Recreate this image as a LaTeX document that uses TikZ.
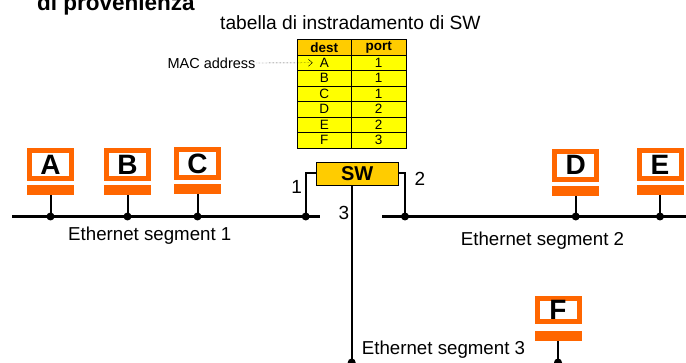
\documentclass[tikz,border=0pt]{standalone}
\usepackage{fontspec}
\setmainfont{Liberation Sans}
\usetikzlibrary{positioning,arrows.meta}
\definecolor{hostorange}{RGB}{255,102,0}
\definecolor{swgold}{RGB}{255,204,0}
\definecolor{tabyellow}{RGB}{255,255,0}
\newcommand{\fpx}[1]{\fontsize{#1}{#1}\selectfont}
\tikzset{
  hostbox/.style={draw=hostorange,line width=5pt,fill=white,minimum width=42pt,
    minimum height=28pt,inner sep=0pt,font=\fpx{28}\bfseries},
  hostbar/.style={fill=hostorange,minimum width=47pt,minimum height=10pt,
    inner sep=0pt,outer sep=0pt},
  swbox/.style={draw,line width=0.8pt,fill=swgold,minimum width=82pt,
    minimum height=23.4pt,inner sep=0pt,font=\fpx{20}\bfseries},
  cell/.style={draw,line width=0.8pt,fill=tabyellow,minimum width=54.5pt,
    minimum height=15.5pt,inner sep=0pt,font=\fpx{13.5}},
  headcell/.style={cell,fill=swgold,font=\fpx{13.5}\bfseries},
  bus/.style={line width=3pt},
  stem/.style={line width=2pt},
  portline/.style={line width=2pt},
  macarrow/.style={thin,densely dotted,-{Straight Barb[length=4pt,width=7pt]}},
  headingtext/.style={anchor=base west,inner sep=0pt,font=\fpx{22.5}\bfseries},
  titletext/.style={anchor=base west,inner sep=0pt,font=\fpx{19.2}},
  seglabel/.style={anchor=base west,inner sep=0pt,font=\fpx{18.7}},
  portlabel/.style={inner sep=0pt,font=\fpx{19}},
  smalllabel/.style={inner sep=1pt,font=\fpx{14.5}}
}

\begin{document}
\begin{tikzpicture}[x=1pt,y=-1pt]
\useasboundingbox (0,0) rectangle (686,363);
\clip (0,0) rectangle (686,363);

% Headings
\node[headingtext] (prov) at (37,10.5) {di provenienza};
\node[titletext] (tabtitle) at (220,30) {tabella di instradamento di SW};

% Forwarding table of SW
\node[headcell] (hd) at (324.3,47.25) {dest};
\node[headcell] (hp) at (378.7,47.25) {port};
\foreach \d/\p [count=\i] in {A/1,B/1,C/1,D/2,E/2,F/3}
{
  \node[cell] (d\i) at (324.3,{47.25+15.5*\i}) {\d};
  \node[cell] (p\i) at (378.7,{47.25+15.5*\i}) {\p};
}

% MAC address pointer into the table
\node[smalllabel] (mac) at (211.5,63) {MAC address};
\draw[macarrow] (mac.east) -- ([xshift=16pt]d1.west);

% Switch
\node[swbox] (SW) at (357.2,174) {SW};

% Hosts
\foreach \h/\x/\y in {A/50.5/164.5,B/127.5/164.5,C/197.5/163.5,D/575.7/165.3,E/660/165}
{
  \node[hostbox] (\h) at (\x,\y) {\h};
  \node[hostbar,below=4pt of \h] (bar\h) {};
}
\node[hostbox,minimum height=23pt] (F) at (558,310) {F};
\node[hostbar,below=7.4pt of F] (barF) {};

% Ethernet segments
\coordinate (bus1w) at (12,216.5);
\coordinate (bus1e) at (320,216.5);
\coordinate (bus2w) at (382,216.5);
\coordinate (bus2e) at (686,216.5);
\coordinate (bus3) at (0,362.5);
\draw[bus] (bus1w) -- (bus1e);
\draw[bus] (bus2w) -- (bus2e);

% Host taps
\foreach \h/\b in {A/bus1w,B/bus1w,C/bus1w,D/bus2w,E/bus2w,F/bus3}
{
  \draw[stem] (bar\h.south) -- (bar\h.south |- \b);
  \fill (bar\h.south |- \b) circle (4pt);
}

% Switch ports
\coordinate (port1) at (305.7,216.5);
\coordinate (port2) at (405,216.5);
\coordinate (port3) at (351.7,362.5);
\draw[portline] ([yshift=1.3pt]SW.west) -| (port1);
\draw[portline] ([yshift=1.3pt]SW.east) -| (port2);
\draw[portline] (port3 |- SW.south) -- (port3);
\fill (port1) circle (4pt);
\fill (port2) circle (4pt);
\fill (port3) circle (4pt);

\node[portlabel] (lab1) at (296.7,186.7) {1};
\node[portlabel] (lab2) at (420,179) {2};
\node[portlabel] (lab3) at (344,213) {3};

% Segment labels
\node[seglabel] (seg1) at (68,240.7) {Ethernet segment 1};
\node[seglabel] (seg2) at (460.7,246) {Ethernet segment 2};
\node[seglabel] (seg3) at (361.7,355) {Ethernet segment 3};

\end{tikzpicture}
\end{document}
